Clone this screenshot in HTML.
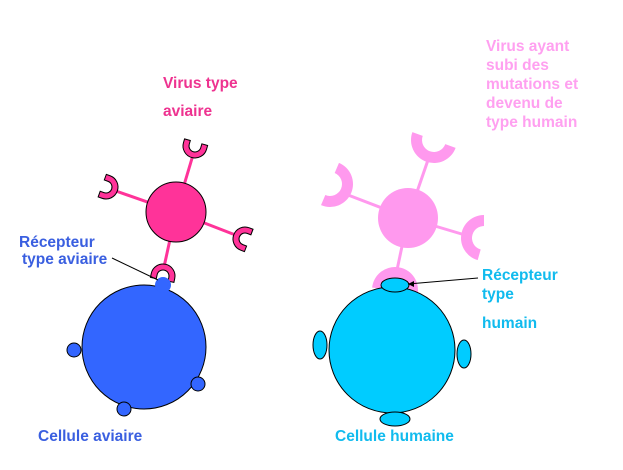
<!DOCTYPE html>
<html><head><meta charset="utf-8"><style>
body{margin:0;background:#fff}
svg{display:block}
text{font-family:"Liberation Sans",Arial,sans-serif;font-weight:bold;font-size:15.5px}
</style></head><body>
<svg width="623" height="470" viewBox="0 0 623 470" xmlns="http://www.w3.org/2000/svg">
<defs>
<path id="cs" d="M-12 -4 L-12 0 A12 12 0 0 0 12 0 L12 -4 L6 -4 L6 0 A6 6 0 0 1 -6 0 L-6 -4 Z"/>
<path id="cb" d="M-23 0 A23 23 0 0 0 23 0 L12 0 A12 12 0 0 1 -12 0 Z"/>
</defs>
<g stroke="#ff3399" stroke-width="3">
<line x1="176" y1="212" x2="193" y2="155"/>
<line x1="176" y1="212" x2="113" y2="190"/>
<line x1="176" y1="212" x2="238" y2="236"/>
<line x1="176" y1="212" x2="164" y2="267"/>
</g>
<circle cx="176" cy="212" r="30" fill="#ff3399" stroke="#000" stroke-width="1"/>
<g fill="#ff3399" stroke="#000" stroke-width="1">
<use href="#cs" transform="translate(195,146) rotate(16)"/>
<use href="#cs" transform="translate(106,187) rotate(-70)"/>
<use href="#cs" transform="translate(245,239) rotate(111)"/>
<use href="#cs" transform="translate(163,276) rotate(192)"/>
</g>
<circle cx="144" cy="347" r="62" fill="#3366ff" stroke="#000" stroke-width="1"/>
<g fill="#3366ff" stroke="#000" stroke-width="1">
<circle cx="74" cy="350" r="7"/><circle cx="198" cy="384" r="7"/><circle cx="124" cy="409" r="7"/>
</g>
<circle cx="163" cy="285" r="8" fill="#3366ff"/>
<line x1="112" y1="258" x2="158" y2="280" stroke="#000" stroke-width="1"/>
<g stroke="#ff99ee" stroke-width="3">
<line x1="408" y1="218" x2="428" y2="160"/>
<line x1="408" y1="218" x2="348" y2="195"/>
<line x1="408" y1="218" x2="465" y2="235"/>
<line x1="408" y1="218" x2="397" y2="270"/>
</g>
<circle cx="408" cy="218" r="30" fill="#ff99ee"/>
<g fill="#ff99ee">
<use href="#cb" transform="translate(434,140) rotate(20)"/>
<use href="#cb" transform="translate(330,184) rotate(-67)"/>
<use href="#cb" transform="translate(484,238) rotate(106)"/>
<use href="#cb" transform="translate(395,290) rotate(186)"/>
</g>
<rect x="484" y="200" width="20" height="80" fill="#fff"/>
<circle cx="392" cy="350" r="63" fill="#00ccff" stroke="#000" stroke-width="1"/>
<g fill="#00ccff" stroke="#000" stroke-width="1">
<ellipse cx="320" cy="345" rx="7" ry="14"/><ellipse cx="464" cy="354" rx="7" ry="14"/>
<ellipse cx="395" cy="419" rx="15" ry="7"/><ellipse cx="395" cy="285" rx="14" ry="7"/>
</g>
<line x1="478" y1="278" x2="408" y2="284" stroke="#000" stroke-width="1"/>
<path d="M408 284 l6 -3 l0 6 z" fill="#000"/>
<g fill="#ee3390"><text x="163" y="88">Virus type</text><text x="163" y="116">aviaire</text></g>
<g fill="#ffa0f0" style="font-weight:normal;font-size:15px"><text x="486" y="51">Virus ayant</text><text x="486" y="70">subi des</text><text x="486" y="89">mutations et</text><text x="486" y="108">devenu de</text><text x="486" y="127">type humain</text></g>
<g fill="#3a5fe0"><text x="19" y="247">Récepteur</text><text x="22" y="264">type aviaire</text><text x="38" y="441">Cellule aviaire</text></g>
<g fill="#11bbee"><text x="482" y="280">Récepteur</text><text x="482" y="299">type</text><text x="482" y="328">humain</text><text x="335" y="441">Cellule humaine</text></g>
</svg>
</body></html>
